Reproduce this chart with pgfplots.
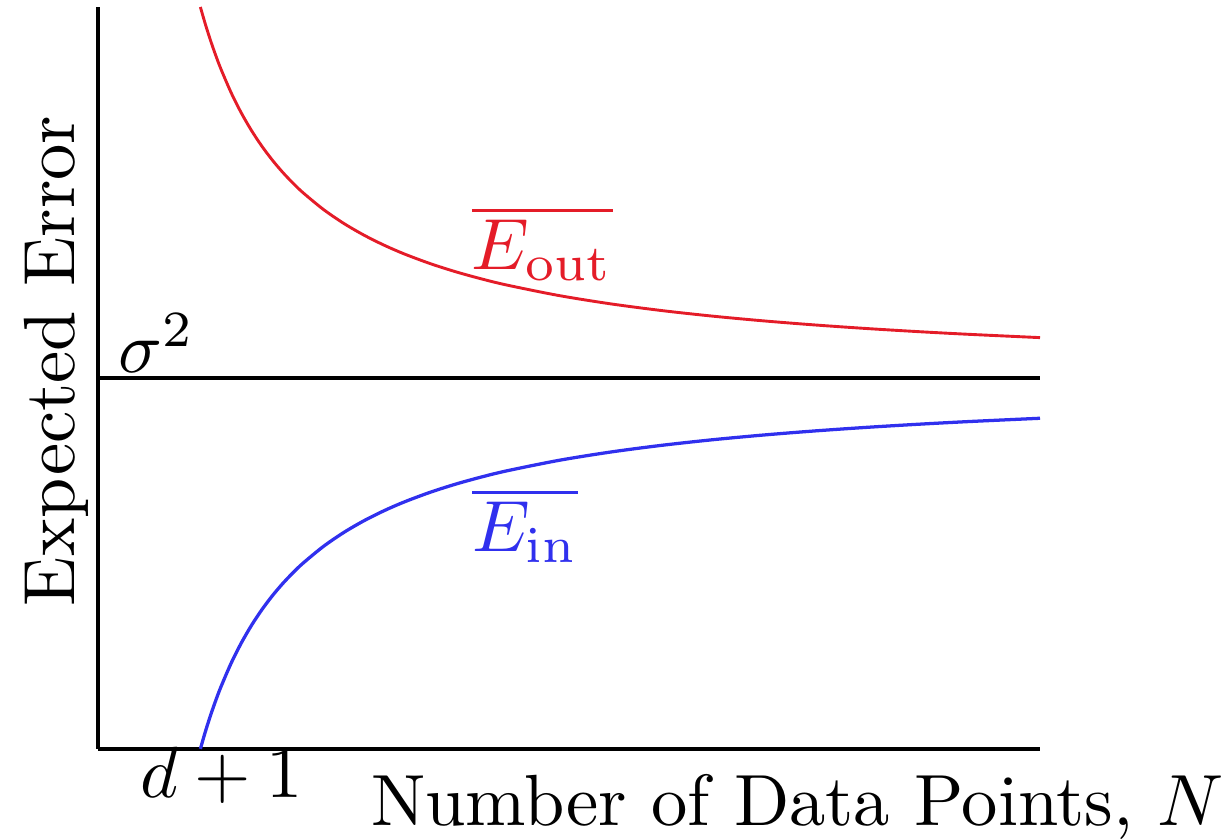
\documentclass[border=0pt]{standalone}
\usepackage{pgfplots}
\usepackage{pgfplotstable}
\pgfplotsset{compat=1.18}

\definecolor{outred}{RGB}{228,28,40}
\definecolor{inblue}{RGB}{48,48,238}

% learning curves of linear regression, N measured in units of d+1
\pgfplotstableread{
N     Ein      Eout
1     0        2
1.05  0.04762  1.95238
1.1   0.09091  1.90909
1.15  0.13043  1.86957
1.2   0.16667  1.83333
1.3   0.23077  1.76923
1.4   0.28571  1.71429
1.5   0.33333  1.66667
1.6   0.375    1.625
1.7   0.41176  1.58824
1.8   0.44444  1.55556
1.9   0.47368  1.52632
2     0.5      1.5
2.2   0.54545  1.45455
2.4   0.58333  1.41667
2.6   0.61538  1.38462
2.8   0.64286  1.35714
3     0.66667  1.33333
3.25  0.69231  1.30769
3.5   0.71429  1.28571
3.75  0.73333  1.26667
4     0.75     1.25
4.5   0.77778  1.22222
5     0.8      1.2
5.5   0.81818  1.18182
6     0.83333  1.16667
6.5   0.84615  1.15385
7     0.85714  1.14286
7.5   0.86667  1.13333
8     0.875    1.125
8.5   0.88235  1.11765
9.2   0.8913   1.1087
}\curves

\begin{document}
\begin{tikzpicture}
\begin{axis}[
  scale only axis,
  width=129.9pt, height=102.3pt,
  xmin=0, xmax=9.2, ymin=0, ymax=2,
  enlargelimits=false,
  axis x line=bottom, axis y line=left,
  axis line style={-, line width=0.5pt},
  xtick=\empty, ytick=\empty,
  clip=false,
]
  % noise level sigma^2
  \addplot[black, line width=0.45pt] coordinates {(0,1) (9.2,1)};
  \addplot[outred, line width=0.4pt, smooth] table[x=N, y=Eout] {\curves};
  \addplot[inblue, line width=0.45pt, smooth] table[x=N, y=Ein] {\curves};

  \node[anchor=base, text=outred] at (axis cs:4.34,1.291) {$\overline{E_{\mathrm{out}}}$};
  \node[anchor=base, text=inblue] at (axis cs:4.17,0.531) {$\overline{E_{\mathrm{in}}}$};
  \node[anchor=base west, inner sep=0pt] at (axis cs:0.19,1.0135) {$\sigma^2$};
  \node[anchor=base, inner sep=0pt] at (axis cs:1.206,-0.132) {$d+1$};
  \node[anchor=base, inner sep=0pt] at (axis cs:6.831,-0.2075) {Number of Data Points, $N$};
  \node[anchor=base, rotate=90, inner sep=0pt] at (axis cs:-0.2246,1.046) {Expected Error};

  \coordinate (bbsw) at (rel axis cs:-0.1040,-0.1213);
  \coordinate (bbne) at (rel axis cs:1.2006,1.0094);
\end{axis}
\pgfresetboundingbox
\path (bbsw) rectangle (bbne);
\end{tikzpicture}
\end{document}
